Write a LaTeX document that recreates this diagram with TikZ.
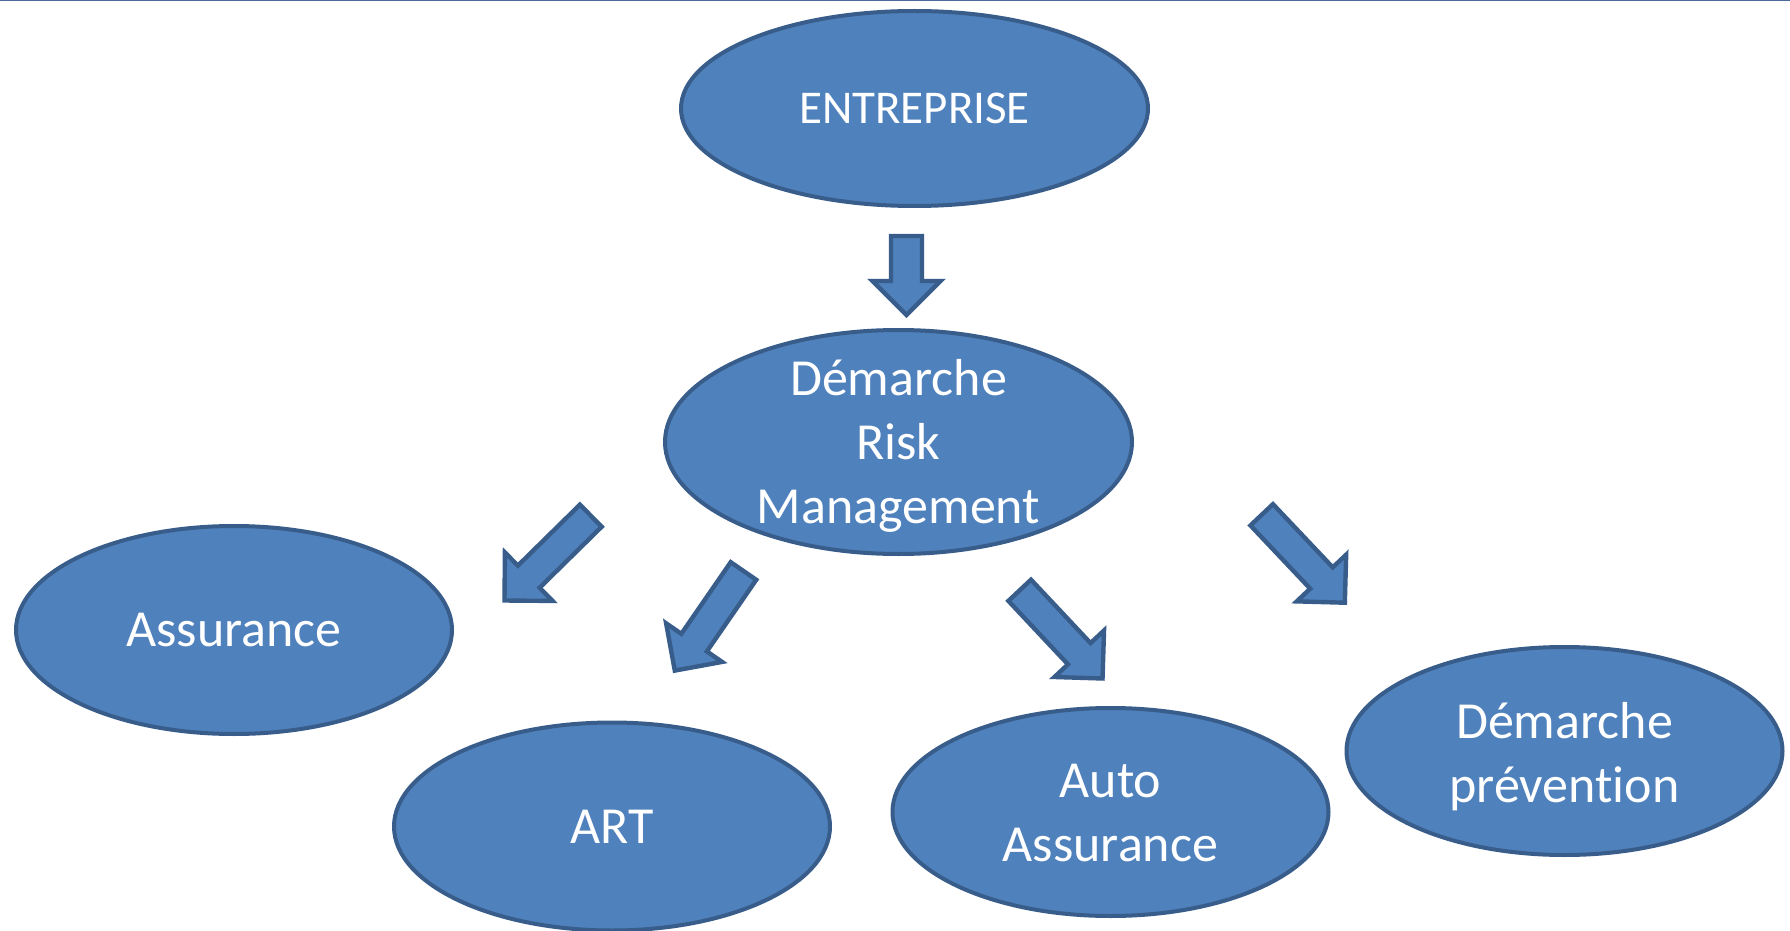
\documentclass[tikz,border=0pt]{standalone}
\usepackage{fontspec}
\setmainfont{Carlito}[Ligatures=NoCommon]
\usetikzlibrary{shapes.geometric}
\definecolor{bfill}{HTML}{4F81BD}
\definecolor{bline}{HTML}{385D8A}
\definecolor{topline}{HTML}{4A6A9A}
\newcommand\blkarrow[4]{%
  \draw[barrow, shift={(#1,#2)}, rotate=#3]
    (0,-15.5) -- ({#4-34},-15.5) -- ({#4-34},-34) -- (#4,0)
    -- ({#4-34},34) -- ({#4-34},15.5) -- (0,15.5) -- cycle;}
\begin{document}
\begin{tikzpicture}[x=0.5pt,y=-0.5pt,
  bub/.style={ellipse, draw=bline, fill=bfill, line width=2pt, inner sep=0pt,
    minimum width=218pt, minimum height=104pt},
  bigbub/.style={bub, minimum width=233.5pt},
  txt/.style={text=white, align=center, inner sep=0pt,
    font=\fontsize{26}{32}\selectfont},
  barrow/.style={draw=bline, fill=bfill, line width=2.2pt, line join=miter}]
\useasboundingbox (0,0) rectangle (1790,931);
\clip (0,0) rectangle (1790,931);
\fill[white] (0,0) rectangle (1790,931);
\draw[topline, line width=0.75pt] (0,0.75) -- (1790,0.75);

\node[bigbub, minimum height=97.5pt] (ent) at (914.5,108.5) {};
\node[bigbub, minimum height=112pt] (drm) at (898.5,442) {};
\node[bub] (ass) at (234,630) {};
\node[bub] (art) at (612,826.5) {};
\node[bub] (auto) at (1110.5,812) {};
\node[bub] (prev) at (1564.5,751) {};

\node[txt, font=\fontsize{23.5}{28}\selectfont] (entT) at (ent.center) {ENTREPRISE};
\node[txt, yshift=-1.8pt] (drmT) at (drm.center) {Démarche\\Risk\\Management};
\node[txt] (assT) at (ass.center) {Assurance};
\node[txt] (artT) at (art.center) {ART};
\node[txt, yshift=-0.7pt] (autoT) at (auto.center) {Auto\\Assurance};
\node[txt, yshift=-3pt] (prevT) at (prev.center) {Démarche\\prévention};

\blkarrow{906.5}{236}{-90}{79}
\blkarrow{590.8}{515.7}{224.5}{121}
\blkarrow{743.5}{571}{235.4}{121}
\blkarrow{1019.7}{590.3}{-46.8}{121}
\blkarrow{1261.7}{514.8}{-46.6}{121}
\end{tikzpicture}
\end{document}
